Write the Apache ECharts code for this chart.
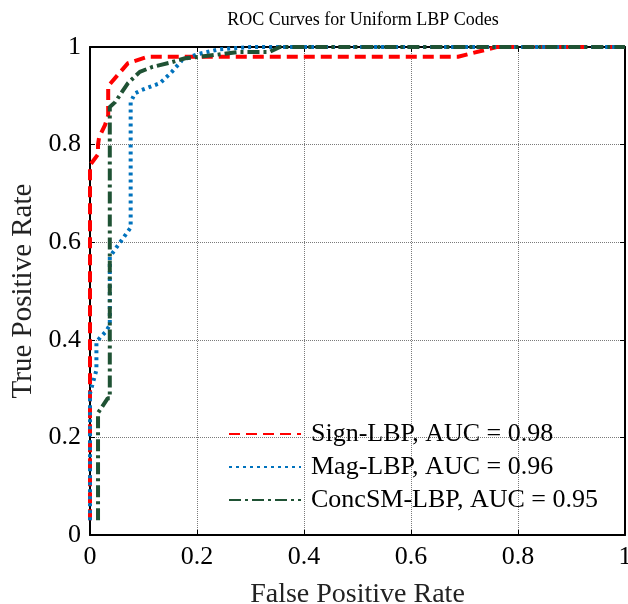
<!DOCTYPE html>
<html>
<head>
<meta charset="utf-8">
<script src="https://cdn.jsdelivr.net/npm/echarts@6/dist/echarts.min.js"></script>
<style>html,body{margin:0;padding:0;background:#fff}#c{width:628px;height:604px}</style>
</head>
<body>
<div id="c"></div>
<script>
var titleText = 'ROC Curves for Uniform LBP Codes';
var xName = 'False Positive Rate';
var yName = 'True Positive Rate';
var seriesNames = ['Sign-LBP, AUC = 0.98', 'Mag-LBP, AUC = 0.96', 'ConcSM-LBP, AUC = 0.95'];
var signLBP = [[0,0.03],[0,0.758],[0.015,0.78],[0.015,0.8],[0.017,0.815],[0.028,0.84],[0.034,0.86],[0.034,0.92],[0.071,0.967],[0.108,0.98],[0.688,0.98],[0.76,1.0],[1,1]];
var magLBP = [[0,0.03],[0,0.29],[0.007,0.318],[0.012,0.338],[0.012,0.395],[0.019,0.405],[0.029,0.416],[0.037,0.43],[0.037,0.57],[0.076,0.63],[0.076,0.887],[0.084,0.905],[0.097,0.912],[0.131,0.926],[0.153,0.949],[0.172,0.973],[0.2,0.985],[0.24,0.995],[0.30,1.0],[1,1]];
var concSMLBP = [[0.015,0.03],[0.015,0.25],[0.033,0.28],[0.037,0.28],[0.037,0.877],[0.047,0.887],[0.071,0.926],[0.093,0.949],[0.116,0.959],[0.153,0.969],[0.178,0.977],[0.206,0.98],[0.28,0.99],[0.336,0.99],[0.355,1.0],[1,1]];
var xTicks = [0,0.2,0.4,0.6,0.8,1];
var yTicks = [0,0.2,0.4,0.6,0.8,1];

var font = '"Liberation Serif", "Times New Roman", serif';
var chart = echarts.init(document.getElementById('c'), null, {renderer:'canvas'});
function fmt(v){ return String(Math.round(v*10)/10); }
var axisCommon = {
  min: 0, max: 1, interval: 0.2,
  axisLine: {show: true, onZero: false, lineStyle: {color: '#000', width: 2}},
  axisTick: {show: true, inside: true, length: 5, lineStyle: {color: '#000', width: 1}},
  splitLine: {show: false}
};
var option = {
  animation: false,
  backgroundColor: '#fff',
  title: {text: titleText, left: 358, top: 6, textAlign: 'center',
    textStyle: {fontFamily: font, fontSize: 18, fontWeight: 'normal', color: '#000'}},
  grid: {left: 90, right: 3, top: 47, bottom: 69, containLabel: false, outerBoundsMode: 'none'},
  legend: {
    orient: 'vertical', left: 223, top: 416, itemWidth: 72, itemHeight: 14, itemGap: 7,
    itemStyle: {opacity: 0},
    textStyle: {fontFamily: font, fontSize: 26, color: '#000', padding: [0,0,0,5]},
    data: seriesNames
  },
  xAxis: [
    Object.assign({}, axisCommon, {type: 'value', position: 'bottom',
      name: xName, nameLocation: 'middle', nameGap: 46,
      nameTextStyle: {fontFamily: font, fontSize: 28, color: '#222'},
      axisLabel: {fontFamily: font, fontSize: 26, color: '#000', margin: 9, formatter: fmt},
      splitLine: {show: true, lineStyle: {color: '#7a7a7a', type: [1,1], width: 1}}}),
    Object.assign({}, axisCommon, {type: 'value', position: 'top', axisLabel: {show: false}})
  ],
  yAxis: [
    Object.assign({}, axisCommon, {type: 'value', position: 'left',
      name: yName, nameLocation: 'middle', nameGap: 44, nameRotate: 90,
      nameTextStyle: {fontFamily: font, fontSize: 29, color: '#222'},
      axisLabel: {fontFamily: font, fontSize: 26, color: '#000', margin: 9, formatter: fmt},
      splitLine: {show: true, lineStyle: {color: '#7a7a7a', type: [1,1], width: 1}}}),
    Object.assign({}, axisCommon, {type: 'value', position: 'right', axisLabel: {show: false}})
  ],
  series: [
    {name: seriesNames[0], type: 'line', data: signLBP, symbol: 'none', xAxisIndex: 0, yAxisIndex: 0,
      lineStyle: {color: '#ff0000', width: 4, type: [11,6]}, itemStyle: {color: '#ff0000'}, z: 3},
    {name: seriesNames[1], type: 'line', data: magLBP, symbol: 'none',
      lineStyle: {color: '#0072bd', width: 4, type: [3,4]}, itemStyle: {color: '#0072bd'}, z: 4},
    {name: seriesNames[2], type: 'line', data: concSMLBP, symbol: 'none',
      lineStyle: {color: '#1f5234', width: 4, type: [12,4,3,4]}, itemStyle: {color: '#1f5234'}, z: 5}
  ]
};
chart.setOption(option);
</script>
</body>
</html>
